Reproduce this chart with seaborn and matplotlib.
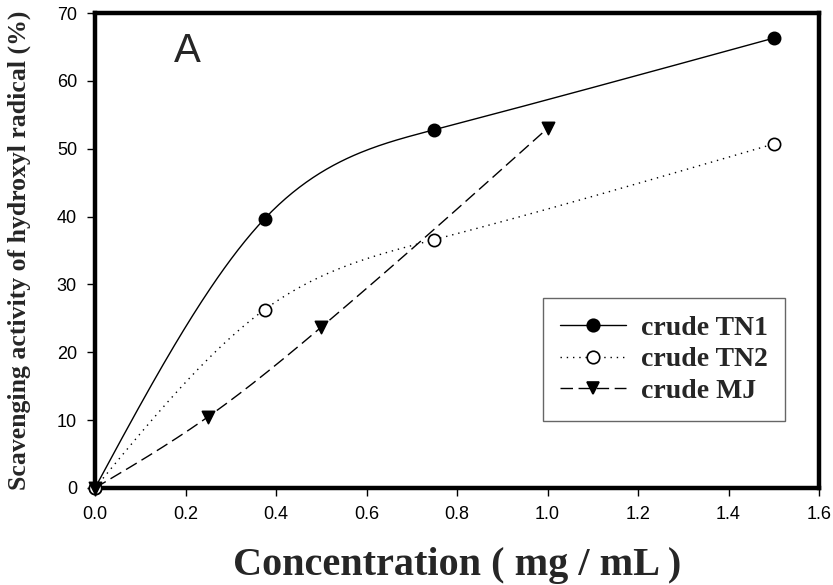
import numpy as np
import pandas as pd
import matplotlib
matplotlib.use("Agg")
import matplotlib.pyplot as plt
from matplotlib.lines import Line2D
import seaborn as sns

# Measured scavenging activity (%) at each concentration (mg/mL)
conc_tn = [0.0, 0.375, 0.75, 1.5]
tn1 = [0.0, 39.7, 52.8, 66.3]
tn2 = [0.0, 26.3, 36.6, 50.7]
conc_mj = [0.0, 0.25, 0.5, 1.0]
mj = [0.0, 10.5, 23.7, 53.0]

series_names = ["crude TN1", "crude TN2", "crude MJ"]
x_ticks = [0.0, 0.2, 0.4, 0.6, 0.8, 1.0, 1.2, 1.4, 1.6]
y_ticks = [0, 10, 20, 30, 40, 50, 60, 70]


def natural_spline(x, y, num=300):
    """Smooth natural cubic spline through the measured points."""
    x = np.asarray(x, float)
    y = np.asarray(y, float)
    n = len(x)
    h = np.diff(x)
    A = np.zeros((n, n))
    b = np.zeros(n)
    A[0, 0] = A[-1, -1] = 1.0
    for i in range(1, n - 1):
        A[i, i - 1] = h[i - 1]
        A[i, i] = 2 * (h[i - 1] + h[i])
        A[i, i + 1] = h[i]
        b[i] = 6 * ((y[i + 1] - y[i]) / h[i] - (y[i] - y[i - 1]) / h[i - 1])
    M = np.linalg.solve(A, b)
    xs = np.linspace(x[0], x[-1], num)
    idx = np.clip(np.searchsorted(x, xs) - 1, 0, n - 2)
    x0, x1 = x[idx], x[idx + 1]
    hh = x1 - x0
    t0, t1 = x1 - xs, xs - x0
    ys = (M[idx] * t0 ** 3 / (6 * hh) + M[idx + 1] * t1 ** 3 / (6 * hh)
          + (y[idx] / hh - M[idx] * hh / 6) * t0
          + (y[idx + 1] / hh - M[idx + 1] * hh / 6) * t1)
    return xs, ys


sns.set_style("ticks")
plt.rcParams["font.family"] = ["Liberation Sans", "DejaVu Sans"]

fig = plt.figure(figsize=(8.33, 5.85), dpi=100)
ax = fig.add_axes([95 / 833, 1 - 488 / 585, (819 - 95) / 833, (488 - 13) / 585])

styles = [
    dict(x=conc_tn, y=tn1, dashes=(None, None), marker="o", face="black"),
    dict(x=conc_tn, y=tn2, dashes=(1, 3.5), marker="o", face="white"),
    dict(x=conc_mj, y=mj, dashes=(9, 4), marker="v", face="black"),
]

handles = []
for name, st in zip(series_names, styles):
    xs, ys = natural_spline(st["x"], st["y"])
    curve = pd.DataFrame({"c": xs, "v": ys})
    sns.lineplot(data=curve, x="c", y="v", ax=ax, color="black", linewidth=1.0,
                 sort=False, estimator=None, zorder=2)
    line = ax.lines[-1]
    if st["dashes"][0] is not None:
        line.set_dashes(st["dashes"])
    pts = pd.DataFrame({"c": st["x"], "v": st["y"]})
    sns.scatterplot(data=pts, x="c", y="v", ax=ax, marker=st["marker"], s=78,
                    color=st["face"], edgecolor="black", linewidth=1.2,
                    zorder=4, clip_on=False)
    h = Line2D([], [], color="black", linewidth=1.0, marker=st["marker"],
               markersize=9, markerfacecolor=st["face"], markeredgecolor="black",
               markeredgewidth=1.2)
    if st["dashes"][0] is not None:
        h.set_dashes(st["dashes"])
    handles.append(h)

ax.set_xlim(0, 1.6)
ax.set_ylim(0, 70)
ax.set_xticks(x_ticks)
ax.set_xticklabels([f"{v:.1f}" for v in x_ticks])
ax.set_yticks(y_ticks)
ax.tick_params(axis="both", direction="out", length=6, width=1.0,
               labelsize=13, color="black", labelcolor="black", pad=7)
ax.tick_params(top=False, right=False)
for sp in ax.spines.values():
    sp.set_visible(True)
    sp.set_linewidth(3.2)
    sp.set_color("black")

serif_bold = dict(family=["Liberation Serif", "DejaVu Serif"], weight="bold")
ax.set_xlabel("Concentration ( mg / mL )", fontsize=29, labelpad=17, **serif_bold)
ax.set_ylabel("Scavenging activity of hydroxyl radical (%)", fontsize=18.5,
              **serif_bold)
ax.yaxis.set_label_coords(-0.088, 0.5)

ax.text(0.205, 64.4, "A", fontsize=29, ha="center", va="center",
        family=["Liberation Sans", "DejaVu Sans"])

leg = ax.legend(handles, series_names, loc="upper left",
                bbox_to_anchor=(543 / 833, 1 - 298 / 585),
                bbox_transform=fig.transFigure,
                prop=dict(family=["Liberation Serif", "DejaVu Serif"],
                          weight="bold", size=20),
                frameon=True, fancybox=False, shadow=False, framealpha=1,
                edgecolor="#666666", handlelength=2.35, handletextpad=0.55,
                borderpad=0.62, labelspacing=0.22, borderaxespad=0)
leg.get_frame().set_linewidth(1.0)

fig.savefig("out.png", dpi=100)
